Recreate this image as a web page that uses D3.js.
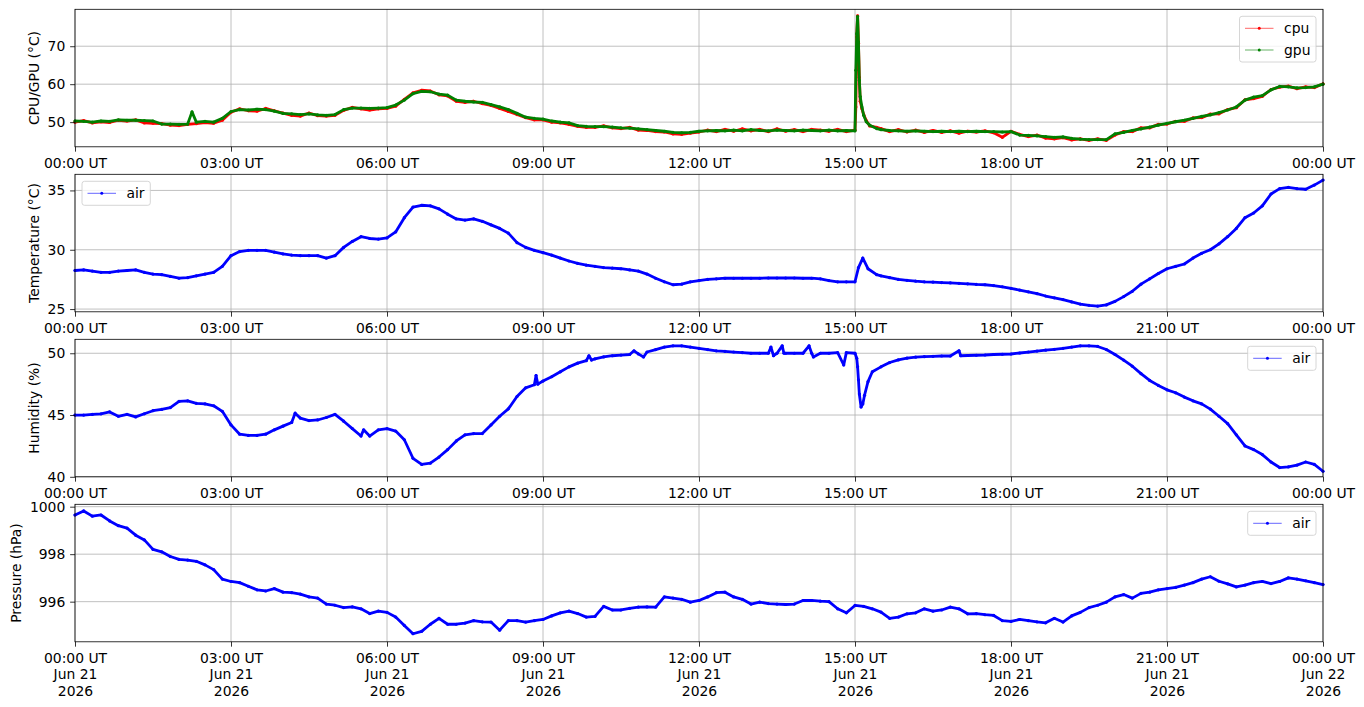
<!DOCTYPE html>
<html>
<head>
<meta charset="utf-8">
<script src="https://cdn.jsdelivr.net/npm/d3@7"></script>
<style>
    body { margin: 0; background: #fff; }
    svg text { font-family: "DejaVu Sans"; font-size: 13.9px; fill: #000; }
</style>
</head>
<body>
<svg id="chart" width="1364" height="707"></svg>
<script>
// samples are [minutes after 00:00 UT on Jun 21 2026, value]
var cpu = [[0,50.0],[10,50.4],[20,49.8],[30,50.1],[40,49.9],[50,50.5],[60,50.3],[70,50.6],[80,49.8],[90,49.7],[100,49.6],[110,49.2],[120,49.1],[130,49.4],[140,49.6],[150,49.9],[160,49.7],[170,50.5],[180,52.6],[190,53.5],[200,53.0],[210,52.9],[220,53.6],[230,53.0],[240,52.4],[250,51.8],[260,51.6],[270,52.4],[280,51.7],[290,51.6],[300,51.8],[310,53.1],[320,53.9],[330,53.5],[340,53.2],[350,53.5],[360,53.6],[370,54.2],[380,56.0],[390,57.7],[400,58.4],[410,58.2],[420,57.2],[430,56.9],[440,55.5],[450,55.2],[460,55.5],[470,54.9],[480,54.4],[490,53.6],[500,52.8],[510,52.0],[520,51.2],[530,50.6],[540,50.6],[550,50.0],[560,49.8],[570,49.4],[580,48.9],[590,48.6],[600,48.6],[610,49.0],[620,48.5],[630,48.3],[640,48.6],[650,47.9],[660,47.8],[670,47.5],[680,47.4],[690,46.9],[700,46.8],[710,47.1],[720,47.4],[730,47.9],[740,47.5],[750,48.1],[760,47.6],[770,48.2],[780,47.7],[790,48.1],[800,47.5],[810,48.2],[820,47.6],[830,48.0],[840,47.5],[850,48.1],[860,47.9],[870,47.6],[880,48.1],[890,47.5],[900,47.9],[901,54.0],[902,72.5],[903,78.0],[904,70.8],[905,61.8],[906,55.5],[908,53.5],[910,52.0],[913,50.4],[917,49.0],[925,48.6],[930,48.3],[940,47.5],[950,48.0],[960,47.4],[970,47.9],[980,47.3],[990,47.8],[1000,47.3],[1010,47.7],[1020,47.1],[1030,47.6],[1040,47.4],[1050,47.7],[1060,47.2],[1070,46.0],[1080,47.6],[1090,46.8],[1100,46.2],[1110,46.6],[1120,45.8],[1130,45.6],[1140,45.9],[1150,45.3],[1160,45.6],[1170,45.2],[1180,45.6],[1190,45.2],[1200,46.6],[1210,47.5],[1220,47.5],[1230,48.5],[1240,48.5],[1250,49.4],[1260,49.5],[1270,50.2],[1280,50.2],[1290,51.1],[1300,51.2],[1310,52.1],[1320,52.2],[1330,53.3],[1340,53.8],[1350,55.9],[1360,56.2],[1370,56.8],[1380,58.6],[1390,59.2],[1400,59.5],[1410,58.8],[1420,59.3],[1430,59.1],[1440,60.1]];

var gpu = [[0,50.3],[10,50.2],[20,50.0],[30,50.3],[40,50.2],[50,50.6],[60,50.5],[70,50.5],[80,50.4],[90,50.3],[100,49.5],[110,49.5],[120,49.4],[130,49.5],[135,52.7],[140,50.0],[150,50.2],[160,50.0],[170,51.0],[180,52.8],[190,53.3],[200,53.2],[210,53.4],[220,53.3],[230,52.9],[240,52.3],[250,52.2],[260,52.0],[270,52.2],[280,51.9],[290,51.8],[300,52.0],[310,53.3],[320,53.7],[330,53.7],[340,53.6],[350,53.7],[360,53.8],[370,54.5],[380,55.8],[390,57.5],[400,58.1],[410,58.0],[420,57.4],[430,57.1],[440,55.8],[450,55.5],[460,55.3],[470,55.2],[480,54.6],[490,54.0],[500,53.3],[510,52.3],[520,51.3],[530,51.0],[540,50.8],[550,50.3],[560,50.0],[570,49.8],[580,49.1],[590,48.9],[600,48.8],[610,48.8],[620,48.7],[630,48.5],[640,48.4],[650,48.2],[660,48.0],[670,47.8],[680,47.6],[690,47.3],[700,47.2],[710,47.3],[720,47.6],[730,47.7],[740,47.8],[750,47.7],[760,47.9],[770,47.7],[780,48.0],[790,47.8],[800,47.7],[810,47.9],[820,47.8],[830,47.7],[840,47.9],[850,47.8],[860,47.7],[870,47.9],[880,47.7],[890,47.8],[900,47.7],[901,63.7],[902,73.3],[903,77.8],[904,71.1],[905,61.0],[906,56.7],[908,54.0],[910,51.8],[913,50.1],[917,49.2],[925,48.3],[930,48.0],[940,47.8],[950,47.7],[960,47.6],[970,47.7],[980,47.6],[990,47.5],[1000,47.6],[1010,47.5],[1020,47.6],[1030,47.5],[1040,47.6],[1050,47.5],[1060,47.5],[1070,47.4],[1080,47.5],[1090,46.6],[1100,46.5],[1110,46.4],[1120,46.2],[1130,46.0],[1140,46.1],[1150,45.7],[1160,45.5],[1170,45.4],[1180,45.4],[1190,45.4],[1200,46.9],[1210,47.3],[1220,47.8],[1230,48.2],[1240,48.7],[1250,49.2],[1260,49.7],[1270,50.1],[1280,50.5],[1290,51.0],[1300,51.5],[1310,51.9],[1320,52.5],[1330,53.2],[1340,54.0],[1350,55.8],[1360,56.6],[1370,57.0],[1380,58.5],[1390,59.4],[1400,59.3],[1410,59.0],[1420,59.1],[1430,59.3],[1440,60.0]];

var airTemp = [[0,28.25],[10,28.3],[20,28.2],[30,28.1],[40,28.1],[50,28.2],[60,28.25],[70,28.3],[80,28.1],[90,27.95],[100,27.9],[110,27.75],[120,27.6],[130,27.65],[140,27.8],[150,27.95],[160,28.1],[170,28.6],[180,29.5],[190,29.85],[200,29.95],[210,29.95],[220,29.95],[230,29.8],[240,29.65],[250,29.55],[260,29.5],[270,29.5],[280,29.5],[290,29.3],[300,29.5],[310,30.2],[320,30.7],[330,31.1],[340,30.95],[350,30.9],[360,31.0],[370,31.5],[380,32.7],[390,33.6],[400,33.75],[410,33.7],[420,33.45],[430,33.0],[440,32.6],[450,32.5],[460,32.6],[470,32.4],[480,32.1],[490,31.8],[500,31.4],[510,30.6],[520,30.2],[530,29.95],[540,29.75],[550,29.55],[560,29.3],[570,29.05],[580,28.85],[590,28.7],[600,28.6],[610,28.5],[620,28.45],[630,28.4],[640,28.3],[650,28.2],[660,27.95],[670,27.6],[680,27.3],[690,27.05],[700,27.1],[710,27.3],[720,27.4],[730,27.5],[740,27.55],[750,27.6],[760,27.6],[770,27.6],[780,27.6],[790,27.6],[800,27.62],[810,27.62],[820,27.62],[830,27.62],[840,27.6],[850,27.6],[860,27.55],[870,27.4],[880,27.3],[890,27.3],[900,27.3],[904,28.5],[909,29.3],[915,28.4],[925,27.9],[930,27.8],[940,27.65],[950,27.5],[960,27.42],[970,27.35],[980,27.3],[990,27.27],[1000,27.23],[1010,27.2],[1020,27.17],[1030,27.13],[1040,27.08],[1050,27.05],[1060,26.98],[1070,26.88],[1080,26.75],[1090,26.6],[1100,26.45],[1110,26.3],[1120,26.1],[1130,25.95],[1140,25.8],[1150,25.6],[1160,25.42],[1170,25.32],[1180,25.25],[1190,25.35],[1200,25.65],[1210,26.05],[1220,26.5],[1230,27.1],[1240,27.55],[1250,28.0],[1260,28.4],[1270,28.6],[1280,28.8],[1290,29.3],[1300,29.7],[1310,30.0],[1320,30.5],[1330,31.1],[1340,31.8],[1350,32.7],[1360,33.1],[1370,33.7],[1380,34.7],[1390,35.15],[1400,35.25],[1410,35.15],[1420,35.1],[1430,35.45],[1440,35.87]];

var humidity = [[0,45.0],[10,45.0],[20,45.05],[30,45.1],[40,45.25],[50,44.9],[60,45.05],[70,44.85],[80,45.1],[90,45.35],[100,45.45],[110,45.6],[120,46.1],[130,46.15],[140,45.95],[150,45.9],[160,45.75],[170,45.3],[180,44.2],[190,43.45],[200,43.35],[210,43.35],[220,43.45],[230,43.8],[240,44.1],[250,44.4],[254,45.15],[260,44.75],[270,44.55],[280,44.6],[290,44.8],[300,45.05],[310,44.5],[320,43.9],[330,43.3],[333,43.8],[340,43.3],[350,43.8],[360,43.9],[370,43.7],[380,43.0],[390,41.5],[400,41.0],[410,41.1],[420,41.6],[430,42.2],[440,42.9],[450,43.4],[460,43.5],[470,43.5],[480,44.2],[490,44.9],[500,45.5],[510,46.5],[520,47.2],[530,47.45],[532,48.2],[534,47.5],[540,47.75],[550,48.1],[560,48.5],[570,48.9],[580,49.2],[590,49.4],[593,49.8],[596,49.45],[600,49.55],[610,49.7],[620,49.8],[630,49.85],[640,49.9],[645,50.2],[650,49.95],[656,49.7],[660,50.1],[670,50.3],[680,50.5],[690,50.6],[700,50.6],[710,50.5],[720,50.4],[730,50.3],[740,50.2],[750,50.15],[760,50.1],[770,50.05],[780,50.0],[790,50.0],[800,50.0],[803,50.5],[806,49.8],[810,50.0],[816,50.6],[818,50.0],[820,50.0],[830,50.0],[840,50.0],[847,50.6],[850,50.0],[852,49.7],[860,50.0],[870,50.0],[880,50.05],[887,49.05],[890,50.05],[900,50.0],[902,49.6],[903,48.9],[904,47.85],[905,46.7],[907,45.65],[909,45.9],[911,46.6],[915,47.7],[920,48.5],[930,48.9],[940,49.25],[950,49.46],[960,49.6],[970,49.68],[980,49.72],[990,49.75],[1000,49.78],[1010,49.78],[1020,50.2],[1022,49.8],[1030,49.82],[1040,49.84],[1050,49.86],[1060,49.9],[1070,49.92],[1080,49.94],[1090,50.02],[1100,50.1],[1110,50.18],[1120,50.25],[1130,50.32],[1140,50.4],[1150,50.5],[1160,50.6],[1170,50.6],[1180,50.55],[1190,50.3],[1200,49.9],[1210,49.45],[1220,48.95],[1230,48.35],[1240,47.8],[1250,47.4],[1260,47.04],[1270,46.8],[1280,46.45],[1290,46.15],[1300,45.9],[1310,45.48],[1320,44.9],[1330,44.3],[1340,43.4],[1350,42.5],[1360,42.2],[1370,41.8],[1380,41.2],[1390,40.75],[1400,40.8],[1410,40.95],[1420,41.2],[1430,41.0],[1440,40.45]];

var pressure = [[0,999.65],[10,999.82],[20,999.6],[30,999.65],[40,999.4],[50,999.2],[60,999.1],[70,998.8],[80,998.6],[90,998.2],[100,998.1],[110,997.9],[120,997.78],[130,997.75],[140,997.7],[150,997.55],[160,997.35],[170,996.95],[180,996.85],[190,996.8],[200,996.65],[210,996.5],[220,996.45],[230,996.55],[240,996.4],[250,996.38],[260,996.32],[270,996.2],[280,996.15],[290,995.9],[300,995.85],[310,995.75],[320,995.78],[330,995.7],[340,995.5],[350,995.6],[360,995.55],[370,995.35],[380,995.0],[390,994.65],[400,994.75],[410,995.05],[420,995.3],[430,995.05],[440,995.05],[450,995.1],[460,995.2],[470,995.15],[480,995.14],[490,994.8],[500,995.2],[510,995.2],[520,995.14],[530,995.2],[540,995.25],[550,995.4],[560,995.53],[570,995.6],[580,995.5],[590,995.35],[600,995.38],[610,995.8],[620,995.65],[630,995.65],[640,995.72],[650,995.77],[660,995.78],[670,995.77],[680,996.2],[690,996.15],[700,996.1],[710,995.98],[720,996.05],[730,996.2],[740,996.38],[750,996.4],[760,996.2],[770,996.1],[780,995.9],[790,995.98],[800,995.92],[810,995.9],[820,995.88],[830,995.9],[840,996.05],[850,996.05],[860,996.02],[870,996.0],[880,995.7],[890,995.53],[900,995.84],[910,995.8],[920,995.7],[930,995.56],[940,995.3],[950,995.35],[960,995.49],[970,995.53],[980,995.7],[990,995.6],[1000,995.65],[1010,995.77],[1020,995.7],[1030,995.49],[1040,995.5],[1050,995.45],[1060,995.42],[1070,995.2],[1080,995.17],[1090,995.25],[1100,995.2],[1110,995.15],[1120,995.11],[1130,995.3],[1140,995.14],[1150,995.4],[1160,995.55],[1170,995.75],[1180,995.85],[1190,995.98],[1200,996.2],[1210,996.3],[1220,996.15],[1230,996.35],[1240,996.4],[1250,996.5],[1260,996.55],[1270,996.6],[1280,996.7],[1290,996.8],[1300,996.95],[1310,997.05],[1320,996.86],[1330,996.75],[1340,996.62],[1350,996.7],[1360,996.8],[1370,996.85],[1380,996.76],[1390,996.85],[1400,997.0],[1410,996.95],[1420,996.88],[1430,996.8],[1440,996.72]];

var cpuGpuTicks = [50, 60, 70];
var tempTicks = [25, 30, 35];
var humidityTicks = [40, 45, 50];
var pressureTicks = [996, 998, 1000];

var START = Date.UTC(2026, 5, 21);
var END = Date.UTC(2026, 5, 22);

function toDate(minutes) {
    return new Date(START + minutes * 60000);
}

var svg = d3.select('#chart');
var plotLeft = 75, plotRight = 1323;
var plotTops = [9.3, 174.3, 339.3, 504.3];
var plotHeight = 137.5;
var tickLen = 4.86;

var panels = [
    { label: 'CPU/GPU (\u00b0C)', domain: [43.5, 79.73], ticks: cpuGpuTicks, legend: 'right',
      series: [{ name: 'cpu', data: cpu, color: '#ff0000' }, { name: 'gpu', data: gpu, color: '#008000' }] },
    { label: 'Temperature (\u00b0C)', domain: [24.77, 36.36], ticks: tempTicks, legend: 'left',
      series: [{ name: 'air', data: airTemp, color: '#0000ff' }] },
    { label: 'Humidity (%)', domain: [40.0, 51.13], ticks: humidityTicks, legend: 'right',
      series: [{ name: 'air', data: humidity, color: '#0000ff' }] },
    { label: 'Pressure (hPa)', domain: [994.31, 1000.1], ticks: pressureTicks, legend: 'right',
      series: [{ name: 'air', data: pressure, color: '#0000ff' }] }
];

var x = d3.scaleUtc().domain([new Date(START), new Date(END)]).range([plotLeft, plotRight]);
var hourTicks = d3.utcHour.every(3).range(new Date(START), new Date(END + 1));
var fmtTime = d3.utcFormat('%H:%M UT');
var fmtDay = d3.utcFormat('%b %d');
var fmtYear = d3.utcFormat('%Y');

panels.forEach(function (p, i) {
    var top = plotTops[i];
    var bottom = top + plotHeight;
    var y = d3.scaleLinear().domain(p.domain).range([bottom, top]);
    var g = svg.append('g');

    drawGrid(g, y, p.ticks, top, bottom);
    p.series.forEach(function (s) { drawSeries(g, s, y); });

    g.append('rect')
        .attr('x', plotLeft).attr('y', top)
        .attr('width', plotRight - plotLeft).attr('height', plotHeight)
        .attr('fill', 'none').attr('stroke', '#000').attr('stroke-width', 0.8);

    var xAxis = g.append('g')
        .attr('transform', 'translate(0,' + bottom + ')')
        .call(d3.axisBottom(x).tickValues(hourTicks).tickSize(tickLen).tickPadding(6.4).tickFormat(fmtTime));
    styleAxis(xAxis);

    if (i === panels.length - 1) {
        xAxis.selectAll('.tick text').each(function (d) {
            var t = d3.select(this);
            t.text(null);
            [fmtTime(d), fmtDay(d), fmtYear(d)].forEach(function (line, k) {
                t.append('tspan').attr('x', 0).attr('dy', k ? '16.3px' : null).text(line);
            });
        });
    }

    var yAxis = g.append('g')
        .attr('transform', 'translate(' + plotLeft + ',0)')
        .call(d3.axisLeft(y).tickValues(p.ticks).tickSize(tickLen).tickPadding(tickLen).tickFormat(d3.format('d')));
    styleAxis(yAxis);

    var box = yAxis.node().getBBox();
    g.append('text')
        .attr('transform', 'translate(' + (plotLeft + box.x - 8.9) + ',' + ((top + bottom) / 2) + ') rotate(-90)')
        .attr('text-anchor', 'middle')
        .text(p.label);

    drawLegend(g, p, top);
});

function drawGrid(g, y, ticks, top, bottom) {
    g.selectAll(null).data(hourTicks).enter().append('line')
        .attr('x1', function (d) { return x(d); })
        .attr('x2', function (d) { return x(d); })
        .attr('y1', top).attr('y2', bottom)
        .attr('stroke', '#b0b0b0').attr('stroke-width', 0.8);
    g.selectAll(null).data(ticks).enter().append('line')
        .attr('x1', plotLeft).attr('x2', plotRight)
        .attr('y1', function (d) { return y(d); })
        .attr('y2', function (d) { return y(d); })
        .attr('stroke', '#b0b0b0').attr('stroke-width', 0.8);
}

function drawSeries(g, s, y) {
    var line = d3.line()
        .x(function (d) { return x(toDate(d[0])); })
        .y(function (d) { return y(d[1]); });

    g.append('path')
        .attr('d', line(s.data))
        .attr('fill', 'none')
        .attr('stroke', s.color)
        .attr('stroke-width', 2.8)
        .attr('stroke-linejoin', 'round')
        .attr('stroke-linecap', 'round');

    g.selectAll(null).data(s.data).enter().append('circle')
        .attr('cx', function (d) { return x(toDate(d[0])); })
        .attr('cy', function (d) { return y(d[1]); })
        .attr('r', 1.6)
        .attr('fill', s.color);
}

function styleAxis(axis) {
    axis.select('.domain').remove();
    axis.selectAll('.tick line').attr('stroke', '#000').attr('stroke-width', 0.8);
}

function drawLegend(g, p, top) {
    var rowGap = 21.7;
    var textWidth = p.series.length > 1 ? 25 : 16.8;
    var w = 44.5 + textWidth + 7;
    var h = 24 + (p.series.length - 1) * rowGap;
    var left = p.legend === 'right' ? plotRight - 7 - w : plotLeft + 7;
    var boxTop = top + 7;
    var lg = g.append('g');

    lg.append('rect')
        .attr('x', left).attr('y', boxTop)
        .attr('width', w).attr('height', h)
        .attr('rx', 2.5)
        .attr('fill', '#fff').attr('fill-opacity', 0.8)
        .attr('stroke', '#cccccc').attr('stroke-width', 0.8);

    p.series.forEach(function (s, k) {
        var cy = boxTop + 12 + k * rowGap;
        lg.append('line')
            .attr('x1', left + 5.5).attr('x2', left + 34)
            .attr('y1', cy).attr('y2', cy)
            .attr('stroke', s.color).attr('stroke-opacity', 0.6).attr('stroke-width', 1);
        lg.append('circle')
            .attr('cx', left + 19.75).attr('cy', cy).attr('r', 1.5)
            .attr('fill', s.color);
        lg.append('text')
            .attr('x', left + 44.5).attr('y', cy)
            .attr('dy', '0.35em')
            .text(s.name);
    });
}
</script>
</body>
</html>
